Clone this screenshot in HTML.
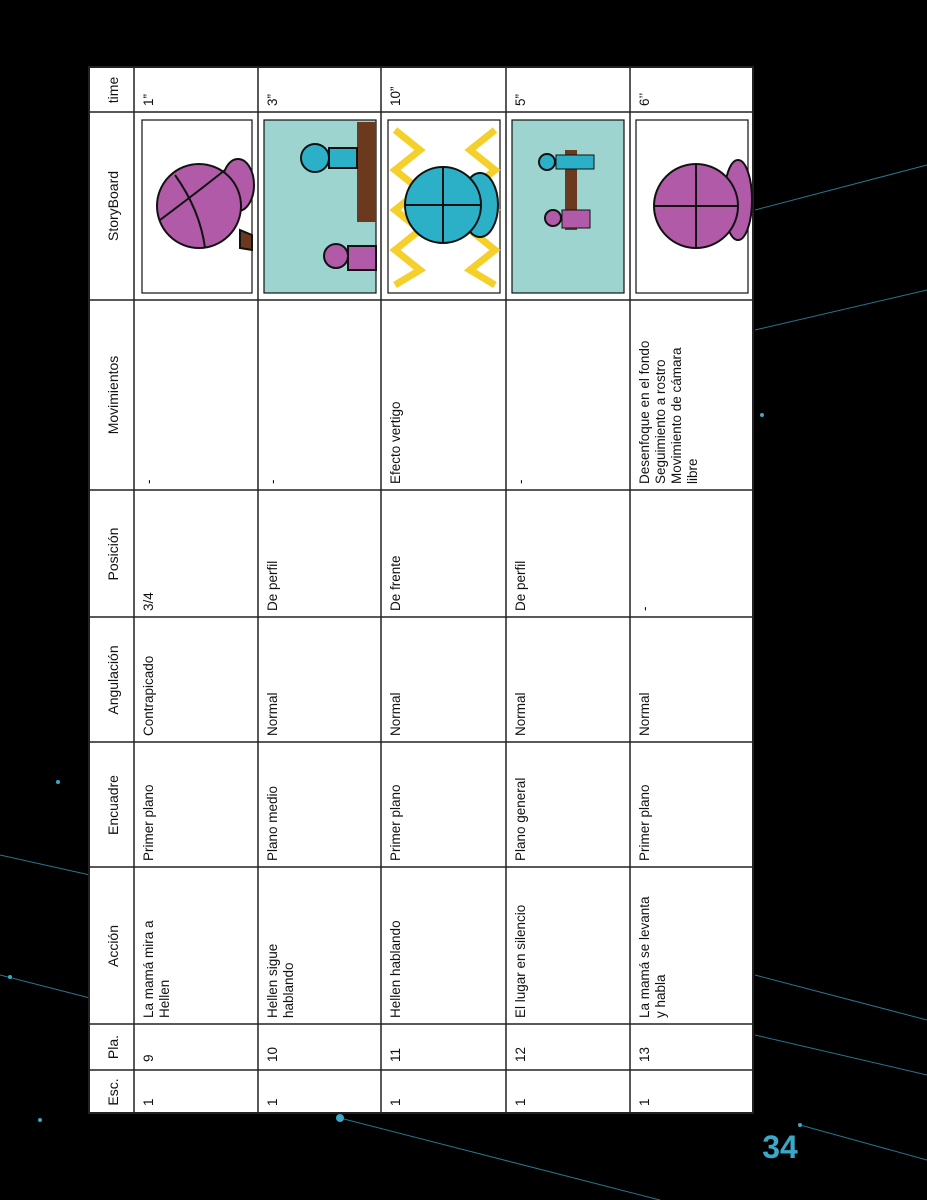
<!DOCTYPE html>
<html><head><meta charset="utf-8"><style>
html,body{margin:0;padding:0;background:#000;width:927px;height:1200px;overflow:hidden}
svg{display:block}
text{font-family:"Liberation Sans",sans-serif;fill:#111}
</style></head><body>
<svg width="927" height="1200" viewBox="0 0 927 1200">
<g stroke="#3aa8c8" stroke-width="1" opacity="0.7">
<line x1="0" y1="855" x2="90" y2="875"/>
<line x1="0" y1="975" x2="90" y2="998"/>
<line x1="340" y1="1118" x2="660" y2="1200"/>
<line x1="800" y1="1125" x2="927" y2="1160"/>
<line x1="755" y1="210" x2="927" y2="165"/>
<line x1="755" y1="330" x2="927" y2="290"/>
<line x1="755" y1="975" x2="927" y2="1020"/>
<line x1="755" y1="1035" x2="927" y2="1075"/>
</g>
<g fill="#3aa8c8">
<circle cx="340" cy="1118" r="4"/><circle cx="58" cy="782" r="2"/><circle cx="10" cy="977" r="2"/><circle cx="40" cy="1120" r="2"/><circle cx="762" cy="415" r="2"/><circle cx="800" cy="1125" r="2"/>
</g>
<text x="780" y="1158" font-size="32" font-weight="bold" style="fill:#3aa8c8" text-anchor="middle">34</text>

<g>
<rect x="89" y="67" width="664" height="1046" fill="#fff" stroke="#222" stroke-width="2"/>
<g stroke="#222" stroke-width="1.5">
<line x1="134" y1="67" x2="134" y2="1113"/><line x1="258" y1="67" x2="258" y2="1113"/>
<line x1="381" y1="67" x2="381" y2="1113"/><line x1="506" y1="67" x2="506" y2="1113"/>
<line x1="630" y1="67" x2="630" y2="1113"/>
<line x1="89" y1="112" x2="753" y2="112"/><line x1="89" y1="300" x2="753" y2="300"/>
<line x1="89" y1="490" x2="753" y2="490"/><line x1="89" y1="617" x2="753" y2="617"/>
<line x1="89" y1="742" x2="753" y2="742"/><line x1="89" y1="867" x2="753" y2="867"/>
<line x1="89" y1="1024" x2="753" y2="1024"/><line x1="89" y1="1070" x2="753" y2="1070"/>
</g>
<g font-size="14" text-anchor="middle">
<text transform="translate(118,1092) rotate(-90)">Esc.</text>
<text transform="translate(118,1047) rotate(-90)">Pla.</text>
<text transform="translate(118,946) rotate(-90)">Acción</text>
<text transform="translate(118,805) rotate(-90)">Encuadre</text>
<text transform="translate(118,680) rotate(-90)">Angulación</text>
<text transform="translate(118,554) rotate(-90)">Posición</text>
<text transform="translate(118,395) rotate(-90)">Movimientos</text>
<text transform="translate(118,206) rotate(-90)">StoryBoard</text>
<text transform="translate(118,90) rotate(-90)">time</text>
</g>
<g font-size="13.5">
<!-- row 1 -->
<text transform="translate(153,1106) rotate(-90)">1</text>
<text transform="translate(153,1062) rotate(-90)">9</text>
<text transform="translate(153,1018) rotate(-90)">La mamá mira a</text>
<text transform="translate(169,1018) rotate(-90)">Hellen</text>
<text transform="translate(153,861) rotate(-90)">Primer plano</text>
<text transform="translate(153,736) rotate(-90)">Contrapicado</text>
<text transform="translate(153,611) rotate(-90)">3/4</text>
<text transform="translate(153,484) rotate(-90)">-</text>
<text transform="translate(153,106) rotate(-90)">1”</text>
<!-- row 2 -->
<text transform="translate(277,1106) rotate(-90)">1</text>
<text transform="translate(277,1062) rotate(-90)">10</text>
<text transform="translate(277,1018) rotate(-90)">Hellen sigue</text>
<text transform="translate(293,1018) rotate(-90)">hablando</text>
<text transform="translate(277,861) rotate(-90)">Plano  medio</text>
<text transform="translate(277,736) rotate(-90)">Normal</text>
<text transform="translate(277,611) rotate(-90)">De perfil</text>
<text transform="translate(277,484) rotate(-90)">-</text>
<text transform="translate(277,106) rotate(-90)">3”</text>
<!-- row 3 -->
<text transform="translate(400,1106) rotate(-90)">1</text>
<text transform="translate(400,1062) rotate(-90)">11</text>
<text transform="translate(400,1018) rotate(-90)">Hellen hablando</text>
<text transform="translate(400,861) rotate(-90)">Primer plano</text>
<text transform="translate(400,736) rotate(-90)">Normal</text>
<text transform="translate(400,611) rotate(-90)">De frente</text>
<text transform="translate(400,484) rotate(-90)">Efecto vertigo</text>
<text transform="translate(400,106) rotate(-90)">10”</text>
<!-- row 4 -->
<text transform="translate(525,1106) rotate(-90)">1</text>
<text transform="translate(525,1062) rotate(-90)">12</text>
<text transform="translate(525,1018) rotate(-90)">El lugar en silencio</text>
<text transform="translate(525,861) rotate(-90)">Plano general</text>
<text transform="translate(525,736) rotate(-90)">Normal</text>
<text transform="translate(525,611) rotate(-90)">De perfil</text>
<text transform="translate(525,484) rotate(-90)">-</text>
<text transform="translate(525,106) rotate(-90)">5”</text>
<!-- row 5 -->
<text transform="translate(649,1106) rotate(-90)">1</text>
<text transform="translate(649,1062) rotate(-90)">13</text>
<text transform="translate(649,1018) rotate(-90)">La mamá se levanta</text>
<text transform="translate(665,1018) rotate(-90)">y habla</text>
<text transform="translate(649,861) rotate(-90)">Primer plano</text>
<text transform="translate(649,736) rotate(-90)">Normal</text>
<text transform="translate(649,611) rotate(-90)">-</text>
<text transform="translate(649,484) rotate(-90)">Desenfoque en el fondo</text>
<text transform="translate(665,484) rotate(-90)">Seguimiento a rostro</text>
<text transform="translate(681,484) rotate(-90)">Movimiento de cámara</text>
<text transform="translate(697,484) rotate(-90)">libre</text>
<text transform="translate(649,106) rotate(-90)">6’’</text>
</g>
<g stroke="#111" stroke-width="2">
<!-- frame 1 -->
<g><rect x="142" y="120" width="110" height="173" fill="#fff" stroke-width="1.2"/>
<ellipse cx="238" cy="185" rx="16" ry="26" fill="#b05aa8"/>
<path d="M240,230 L252,235 L252,250 L240,248Z" fill="#6b3a1e"/>
<circle cx="199" cy="206" r="42" fill="#b05aa8"/>
<path d="M160,220 Q200,190 225,170 M175,175 Q200,210 205,248" fill="none"/></g>
<!-- frame 2 -->
<g><rect x="264" y="120" width="112" height="173" fill="#9ed4d0" stroke-width="1.2"/>
<rect x="357" y="122" width="19" height="100" fill="#6b3a1e" stroke="none"/>
<circle cx="315" cy="158" r="14" fill="#2bb0c8"/><rect x="329" y="148" width="28" height="20" fill="#2bb0c8"/>
<circle cx="336" cy="256" r="12" fill="#b05aa8"/><rect x="348" y="246" width="28" height="24" fill="#b05aa8"/></g>
<!-- frame 3 -->
<g><rect x="388" y="120" width="112" height="173" fill="#fff" stroke-width="1.2"/>
<path d="M395,130 L420,150 L395,170 L420,190 L395,210 L420,230 L395,250 L420,270 L395,285 M495,130 L470,150 L495,170 L470,190 L495,210 L470,230 L495,250 L470,270 L495,285" fill="none" stroke="#f5cf2a" stroke-width="7"/>
<ellipse cx="480" cy="205" rx="18" ry="32" fill="#2bb0c8"/>
<circle cx="443" cy="205" r="38" fill="#2bb0c8"/>
<path d="M405,205 L481,205 M443,167 L443,243" fill="none"/></g>
<!-- frame 4 -->
<g><rect x="512" y="120" width="112" height="173" fill="#9ed4d0" stroke-width="1.2"/>
<rect x="565" y="150" width="12" height="80" fill="#6b3a1e" stroke="none"/>
<circle cx="547" cy="162" r="8" fill="#2bb0c8"/><rect x="556" y="155" width="38" height="14" fill="#2bb0c8" stroke-width="1"/>
<circle cx="553" cy="218" r="8" fill="#b05aa8"/><rect x="562" y="210" width="28" height="18" fill="#b05aa8" stroke-width="1"/></g>
<!-- frame 5 -->
<g><rect x="636" y="120" width="112" height="173" fill="#fff" stroke-width="1.2"/>
<ellipse cx="738" cy="200" rx="14" ry="40" fill="#b05aa8"/>
<circle cx="696" cy="206" r="42" fill="#b05aa8"/>
<path d="M654,206 L738,206 M696,164 L696,248" fill="none"/></g>
</g>
</g>
</svg>
</body></html>
